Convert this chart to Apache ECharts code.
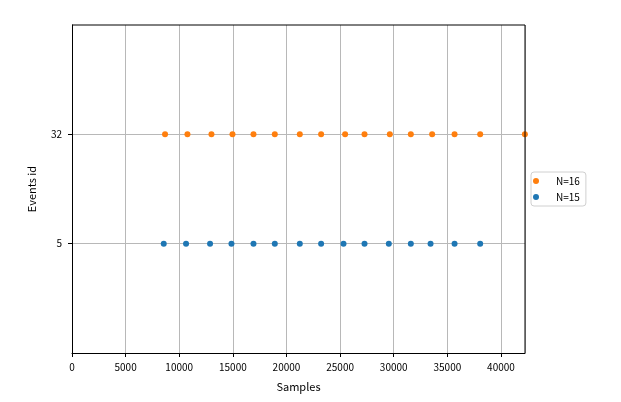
<!DOCTYPE html>
<html>
<head>
<meta charset="utf-8">
<script src="https://cdn.jsdelivr.net/npm/echarts@6/dist/echarts.min.js"></script>
<style>html,body{margin:0;padding:0;background:#fff;}#c{width:621px;height:402px;}</style>
</head>
<body>
<div id="c"></div>
<script>
var yCategories = ['', '5', '32', ''];
var xTicks = [0, 5000, 10000, 15000, 20000, 25000, 30000, 35000, 40000];
var seriesNames = ['N=16', 'N=15'];
var samples16 = [8675, 10765, 13004, 14963, 16922, 18909, 21241, 23228, 25466, 27276, 29636, 31595, 33582, 35672, 38060, 42229];
var ids16 = '32';
var samples15 = [8554, 10634, 12873, 14869, 16922, 18909, 21241, 23228, 25317, 27276, 29543, 31595, 33433, 35672, 38060];
var ids15 = '5';

var FONT = '"Noto Sans CJK SC", "DejaVu Sans", sans-serif';
var chart = echarts.init(document.getElementById('c'), null, {renderer: 'canvas'});
function pts(xs, y) { return xs.map(function (x) { return [x, y]; }); }
var showReal = function (i, v) { return v !== ''; };
chart.setOption({
  animation: false,
  backgroundColor: '#fff',
  textStyle: {fontFamily: FONT},
  grid: {left: 72, right: 96, top: 25, bottom: 49, containLabel: false, show: false},
  xAxis: {
    type: 'value', min: 0, max: 42240, interval: 5000,
    name: 'Samples', nameLocation: 'middle', nameGap: 28,
    nameTextStyle: {fontFamily: FONT, fontSize: 11, color: '#000'},
    axisLine: {show: true, onZero: false, lineStyle: {color: '#000', width: 1}},
    axisTick: {show: true, length: 4, lineStyle: {color: '#000'}},
    axisLabel: {fontFamily: FONT, fontSize: 10, color: '#000', margin: 9, showMaxLabel: false,
      formatter: function (v) { return xTicks.indexOf(v) >= 0 ? String(v) : ''; }},
    splitLine: {show: true, lineStyle: {color: '#b8b8b8', width: 1}}
  },
  yAxis: {
    type: 'category', data: yCategories, boundaryGap: false,
    name: 'Events id', nameLocation: 'middle', nameGap: 35, nameRotate: 90,
    nameTextStyle: {fontFamily: FONT, fontSize: 11, color: '#000'},
    axisLine: {show: true, lineStyle: {color: '#000', width: 1}},
    axisTick: {show: true, length: 4, interval: showReal, lineStyle: {color: '#000'}},
    axisLabel: {fontFamily: FONT, fontSize: 10, color: '#000', margin: 10, interval: showReal},
    splitLine: {show: true, interval: showReal, lineStyle: {color: '#b8b8b8', width: 1}}
  },
  legend: {
    orient: 'vertical', left: 531, top: 172,
    padding: [3, 6, 3, 2], itemGap: 4, itemWidth: 30, itemHeight: 6,
    borderColor: '#d0d0d0', borderWidth: 1, borderRadius: 3, backgroundColor: '#fff',
    icon: 'circle',
    textStyle: {fontFamily: FONT, fontSize: 10, color: '#000', lineHeight: 12},
    data: seriesNames
  },
  graphic: [
    {type: 'line', shape: {x1: 72, y1: 25, x2: 525, y2: 25}, style: {stroke: '#000', lineWidth: 1}, z: 10},
    {type: 'line', shape: {x1: 525, y1: 25, x2: 525, y2: 353}, style: {stroke: '#000', lineWidth: 1}, z: 10}
  ],
  series: [
    {name: seriesNames[0], type: 'scatter', symbolSize: 6, clip: false, itemStyle: {color: '#ff7f0e', opacity: 1}, data: pts(samples16, ids16)},
    {name: seriesNames[1], type: 'scatter', symbolSize: 6, clip: false, itemStyle: {color: '#1f77b4', opacity: 1}, data: pts(samples15, ids15)}
  ]
});
</script>
</body>
</html>
